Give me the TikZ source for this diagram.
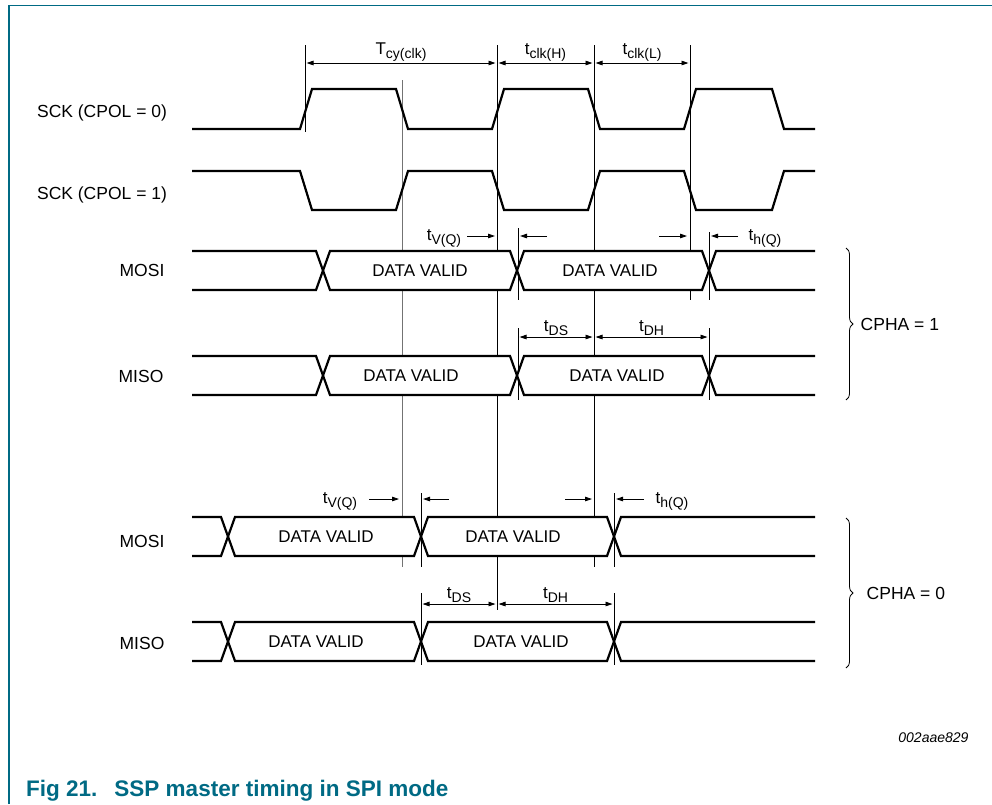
\documentclass[tikz,border=0pt]{standalone}
\usepackage{fontspec}
\setmainfont{Liberation Sans}
\usetikzlibrary{arrows.meta,decorations.pathreplacing}
\definecolor{nxpteal}{RGB}{0,106,132}
\newcommand{\tsub}[1]{\raisebox{-4pt}{\fontsize{14}{16}\selectfont #1}}

\begin{document}
\begin{tikzpicture}[x=1pt, y=-1pt,
    >={Triangle[length=7pt,width=4.5pt]},
    sig/.style={line width=2.2pt},
    guideline/.style={line width=0.8pt},
    dimline/.style={<->, line width=0.8pt, shorten <=1.5pt, shorten >=1.5pt},
    pointer/.style={->, line width=0.8pt},
    lbl/.style={font=\fontsize{17.5}{20}\selectfont},
    data/.style={font=\fontsize{17}{20}\selectfont},
    tlbl/.style={font=\fontsize{17}{20}\selectfont, inner sep=1pt}]

    \useasboundingbox (0,0) rectangle (992,804);

    % frame and caption
    \draw[nxpteal, line width=1.5pt] (9,804) -- (9,5.5) -- (992,5.5);
    \node[anchor=base west, inner sep=0pt, text=nxpteal, font=\bfseries\fontsize{22.5}{26}\selectfont] (caption) at (26,796) {Fig 21.\hspace{17pt}SSP master timing in SPI mode};
    \node[anchor=east, font=\itshape\fontsize{14}{16}\selectfont] (figid) at (972,738) {002aae829};

    % signal names
    \node[lbl] (sck0) at (102,113) {SCK (CPOL = 0)};
    \node[lbl] (sck1) at (102,195) {SCK (CPOL = 1)};
    \node[lbl] (mosi1) at (142,270) {MOSI};
    \node[lbl] (miso1) at (141,376) {MISO};
    \node[lbl] (mosi0) at (142,541) {MOSI};
    \node[lbl] (miso0) at (142,643) {MISO};

    % guide lines
    \draw[guideline] (305,45) -- (305,132);
    \draw[guideline, black!55] (402,80) -- (402,567);
    \draw[guideline] (497,45) -- (497,610);
    \draw[guideline] (594,45) -- (594,567);
    \draw[guideline] (690,45) -- (690,300);
    \draw[guideline] (518,228) -- (518,300);
    \draw[guideline] (709,232) -- (709,300);
    \draw[guideline] (518,328) -- (518,400);
    \draw[guideline] (709,328) -- (709,400);
    \draw[guideline] (421,493) -- (421,567);
    \draw[guideline] (614,493) -- (614,567);
    \draw[guideline] (421,593) -- (421,665);
    \draw[guideline] (614,593) -- (614,665);

    % clocks
    \draw[sig] (192,129) -- (300,129) -- (312,89) -- (396,89) -- (408,129) -- (492,129) -- (504,89) -- (588,89) -- (600,129) -- (684,129) -- (696,89) -- (772,89) -- (784,129) -- (815,129);
    \draw[sig] (192,171) -- (300,171) -- (312,210) -- (396,210) -- (408,171) -- (492,171) -- (504,210) -- (588,210) -- (600,171) -- (684,171) -- (696,210) -- (772,210) -- (784,171) -- (815,171);

    % data lines
    \foreach \yt/\yb/\xa/\xb/\xc in {251/290/323/517/709, 356/395/323/517/709, 517/556/228/421/614, 622/661/228/421/614} {
        \fill[white] (\xa,{(\yt+\yb)/2}) -- (\xa+7,\yt) -- (\xb-7,\yt) -- (\xb,{(\yt+\yb)/2}) -- (\xb-7,\yb) -- (\xa+7,\yb) -- cycle
            (\xb,{(\yt+\yb)/2}) -- (\xb+7,\yt) -- (\xc-7,\yt) -- (\xc,{(\yt+\yb)/2}) -- (\xc-7,\yb) -- (\xb+7,\yb) -- cycle;
        \draw[sig] (192,\yt) -- (\xa-7,\yt) -- (\xa+7,\yb) -- (\xb-7,\yb) -- (\xb+7,\yt) -- (\xc-7,\yt) -- (\xc+7,\yb) -- (815,\yb);
        \draw[sig] (192,\yb) -- (\xa-7,\yb) -- (\xa+7,\yt) -- (\xb-7,\yt) -- (\xb+7,\yb) -- (\xc-7,\yb) -- (\xc+7,\yt) -- (815,\yt);
    }
    \node[data] (mosi1a) at (420,271) {DATA VALID};
    \node[data] (mosi1b) at (610,271) {DATA VALID};
    \node[data] (miso1a) at (411,376) {DATA VALID};
    \node[data] (miso1b) at (617,376) {DATA VALID};
    \node[data] (mosi0a) at (326,537) {DATA VALID};
    \node[data] (mosi0b) at (513,537) {DATA VALID};
    \node[data] (miso0a) at (316,642) {DATA VALID};
    \node[data] (miso0b) at (521,642) {DATA VALID};

    % clock timing
    \coordinate (cyA) at (305,63);
    \coordinate (cyB) at (497,63);
    \coordinate (clkH) at (594,63);
    \coordinate (clkL) at (690,63);
    \draw[dimline] (cyA) -- (cyB) node[midway, above, tlbl] {T\tsub{cy(clk)}};
    \draw[dimline] (cyB) -- (clkH) node[midway, above, tlbl] {t\tsub{clk(H)}};
    \draw[dimline] (clkH) -- (clkL) node[midway, above, tlbl] {t\tsub{clk(L)}};

    % CPHA = 1 timing
    \node[tlbl] (tvq1) at (444,238) {t\tsub{V(Q)}};
    \node[tlbl] (thq1) at (765,238) {t\tsub{h(Q)}};
    \coordinate (vq1a) at (495,236);
    \coordinate (vq1b) at (520,236);
    \coordinate (hq1a) at (687,236);
    \coordinate (hq1b) at (711,236);
    \draw[pointer] (vq1a) ++(-28,0) -- (vq1a);
    \draw[pointer] (vq1b) ++(27,0) -- (vq1b);
    \draw[pointer] (hq1a) ++(-28,0) -- (hq1a);
    \draw[pointer] (hq1b) ++(27,0) -- (hq1b);
    \coordinate (ds1a) at (518,337);
    \coordinate (ds1b) at (594,337);
    \coordinate (dh1b) at (709,337);
    \draw[dimline] (ds1a) -- (ds1b) node[midway, above, tlbl] {t\tsub{DS}};
    \draw[dimline] (ds1b) -- (dh1b) node[midway, above, tlbl] {t\tsub{DH}};

    % CPHA = 0 timing
    \node[tlbl] (tvq0) at (340,501) {t\tsub{V(Q)}};
    \node[tlbl] (thq0) at (672,501) {t\tsub{h(Q)}};
    \coordinate (vq0a) at (399,499);
    \coordinate (vq0b) at (423,499);
    \coordinate (hq0a) at (592,499);
    \coordinate (hq0b) at (616,499);
    \draw[pointer] (vq0a) ++(-30,0) -- (vq0a);
    \draw[pointer] (vq0b) ++(26,0) -- (vq0b);
    \draw[pointer] (hq0a) ++(-27,0) -- (hq0a);
    \draw[pointer] (hq0b) ++(28,0) -- (hq0b);
    \coordinate (ds0a) at (421,604);
    \coordinate (ds0b) at (497,604);
    \coordinate (dh0b) at (614,604);
    \draw[dimline] (ds0a) -- (ds0b) node[midway, above, tlbl] {t\tsub{DS}};
    \draw[dimline] (ds0b) -- (dh0b) node[midway, above, tlbl] {t\tsub{DH}};

    % phase braces
    \draw[decorate, decoration={brace, amplitude=7pt}, line width=0.8pt] (846,248) -- (846,400) node[midway, right=11pt, lbl] (cpha1) {CPHA = 1};
    \draw[decorate, decoration={brace, amplitude=7pt}, line width=0.8pt] (846,518) -- (846,668) node[midway, right=17pt, lbl] (cpha0) {CPHA = 0};

\end{tikzpicture}
\end{document}
